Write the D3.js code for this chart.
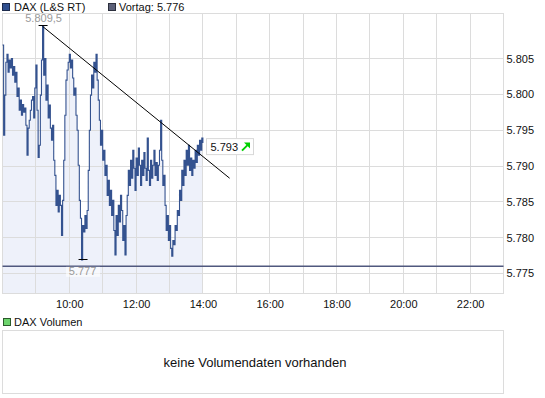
<!DOCTYPE html>
<html><head><meta charset="utf-8">
<script src="https://cdn.jsdelivr.net/npm/d3@7"></script>
<style>
body{margin:0;background:#fff;}
svg{display:block;font-family:Arial,"Liberation Sans",sans-serif;}
</style>
</head><body>
<svg id="c" width="545" height="398"></svg>
<script>
// ---------- data ----------
const seriesName = "DAX (L&S RT)";
const prevCloseLabel = "Vortag";
const prevClose = 5776;
const startTime = "08:00";
const intervalMin = 2;
const prices = [
5806.9,5794.3,5799.9,5804.5,5805.6,5803.1,5804.8,5803.7,5805.0,5802.7,
5803.9,5801.7,5803.1,5799.7,5800.9,5797.8,5799.2,5797.1,5798.6,5797.5,
5798.1,5795.7,5791.5,5795.3,5796.4,5797.8,5799.2,5799.7,5796.7,5800.9,
5804.1,5797.8,5791.2,5792.9,5799.9,5804.8,5809.5,5802.7,5805.0,5799.2,
5801.3,5796.7,5798.5,5795.3,5793.6,5795.7,5790.8,5788.7,5784.5,5786.6,
5783.6,5785.9,5784.5,5780.3,5785.2,5790.8,5797.1,5802.0,5803.4,5804.5,
5805.6,5803.7,5804.8,5802.3,5799.9,5800.9,5797.1,5795.0,5790.1,5785.2,
5782.7,5776.9,5781.7,5780.8,5783.1,5781.3,5783.8,5789.4,5795.0,5799.9,
5802.7,5800.9,5804.5,5803.1,5805.6,5802.0,5799.2,5796.4,5792.9,5795.0,
5790.8,5792.2,5788.7,5790.1,5785.9,5788.0,5784.5,5786.6,5783.1,5785.2,
5781.0,5777.6,5783.1,5780.3,5784.5,5782.2,5785.9,5783.8,5779.6,5781.7,
5777.6,5783.1,5785.9,5789.4,5787.3,5790.8,5788.3,5792.2,5789.7,5786.6,
5791.1,5788.7,5792.5,5790.1,5787.3,5790.8,5788.7,5791.9,5789.7,5788.0,
5793.9,5789.4,5787.3,5790.8,5788.3,5790.1,5792.2,5788.7,5790.5,5788.0,
5790.1,5792.2,5796.4,5790.8,5787.3,5788.7,5784.5,5781.0,5783.1,5779.6,
5781.7,5778.5,5777.4,5779.6,5779.0,5781.7,5781.0,5783.8,5783.1,5786.6,
5785.2,5789.4,5787.3,5790.8,5788.7,5792.2,5790.1,5792.9,5789.4,5791.1,
5788.7,5790.8,5789.7,5792.2,5790.5,5792.9,5791.5,5793.6,5792.2,5793.9,
5793.2
];
const trendTimes = ["09:12", "14:48"];
const trendValues = [5809.5, 5788.3];
const yTicks = [5775, 5780, 5785, 5790, 5795, 5800, 5805];
const xTickLabels = ["10:00", "12:00", "14:00", "16:00", "18:00", "20:00", "22:00"];
const gridHours = ["09:00","10:00","11:00","12:00","13:00","14:00","15:00","16:00","17:00","18:00","19:00","20:00","21:00","22:00"];
const xDomain = ["08:00", "23:00"];
const yDomain = [5772.2, 5811.3];
const volumeLegend = "DAX Volumen";
const volumeMessage = "keine Volumendaten vorhanden";

// ---------- helpers ----------
const toH = s => { const [h, m] = s.split(":").map(Number); return h + m / 60; };
const de = d3.formatLocale({decimal: ",", thousands: ".", grouping: [3], currency: ["", " €"]});
const f0 = de.format(",.0f"), f1 = de.format(",.1f");

const data = prices.map((v, i) => ({t: toH(startTime) + i * intervalMin / 60, v}));

const L = 2.5, R = 503.5, T = 13.5, B = 293.5;
const x = d3.scaleLinear().domain(xDomain.map(toH)).range([L, R]);
const y = d3.scaleLinear().domain(yDomain).range([B, T]);
const px = v => Math.round(v - 0.5) + 0.5;

const svg = d3.select("#c");

// legend top
const lg = svg.append("g");
lg.append("rect").attr("x", 2.5).attr("y", 3.5).attr("width", 7).attr("height", 7)
  .attr("fill", "#2f4f8f").attr("stroke", "#1d2b4d");
lg.append("text").attr("x", 14).attr("y", 11).attr("font-size", 11).attr("fill", "#111").text(seriesName);
lg.append("rect").attr("x", 108.5).attr("y", 3.5).attr("width", 7).attr("height", 7)
  .attr("fill", "#5c6078").attr("stroke", "#2c2f3d");
lg.append("text").attr("x", 119).attr("y", 11).attr("font-size", 11).attr("fill", "#111")
  .text(prevCloseLabel + ": " + f0(prevClose));

// fill
const area = d3.area().curve(d3.curveStepAfter).x(d => x(d.t)).y0(B).y1(d => y(d.v));
svg.append("path").datum(data).attr("d", area).attr("fill", "#eef1fa");

// grid
const grid = svg.append("g").attr("stroke", "#dcdcdc").attr("stroke-width", 1);
gridHours.forEach(h => grid.append("line").attr("x1", px(x(toH(h)))).attr("x2", px(x(toH(h))))
  .attr("y1", T).attr("y2", B));
yTicks.forEach(v => grid.append("line").attr("x1", L).attr("x2", R)
  .attr("y1", px(y(v))).attr("y2", px(y(v))));
grid.append("rect").attr("x", L).attr("y", T).attr("width", R - L).attr("height", B - T).attr("fill", "none");

// axes
const yAxis = d3.axisRight(y).tickValues(yTicks).tickFormat(f0).tickSize(0).tickPadding(3);
const ya = svg.append("g").attr("transform", `translate(${R},0)`).call(yAxis);
ya.select(".domain").remove();
ya.selectAll("text").attr("font-size", 11).attr("fill", "#111").attr("font-family", "Arial, 'Liberation Sans', sans-serif");

const xAxis = d3.axisBottom(x).tickValues(xTickLabels.map(toH))
  .tickFormat((d, i) => xTickLabels[i]).tickSize(0).tickPadding(7);
const xa = svg.append("g").attr("transform", `translate(0,${B})`).call(xAxis);
xa.select(".domain").remove();
xa.selectAll("text").attr("font-size", 11).attr("fill", "#111").attr("font-family", "Arial, 'Liberation Sans', sans-serif");

// previous close line
svg.append("line").attr("x1", L).attr("x2", R).attr("y1", y(prevClose)).attr("y2", y(prevClose))
  .attr("stroke", "#50587e").attr("stroke-width", 1.4);

// price line
const line = d3.line().curve(d3.curveStepAfter).x(d => x(d.t)).y(d => y(d.v));
svg.append("path").datum(data).attr("d", line).attr("fill", "none")
  .attr("stroke", "#34528f").attr("stroke-width", 1.1).attr("stroke-linejoin", "miter");

// trend line
svg.append("line")
  .attr("x1", x(toH(trendTimes[0]))).attr("y1", y(trendValues[0]))
  .attr("x2", x(toH(trendTimes[1]))).attr("y2", y(trendValues[1]))
  .attr("stroke", "#000").attr("stroke-width", 1);

// max / min markers
const maxD = data.reduce((a, b) => b.v > a.v ? b : a);
const minD = data.reduce((a, b) => b.v < a.v ? b : a);
svg.append("line").attr("x1", x(maxD.t) - 4).attr("x2", x(maxD.t) + 5)
  .attr("y1", px(y(maxD.v)) - 1).attr("y2", px(y(maxD.v)) - 1).attr("stroke", "#000");
svg.append("text").attr("x", x(maxD.t) + 1).attr("y", 21.5).attr("text-anchor", "middle")
  .attr("font-size", 11).attr("fill", "#9a9a9a").text(f1(maxD.v));

svg.append("line").attr("x1", x(minD.t) - 3).attr("x2", x(minD.t) + 6)
  .attr("y1", px(y(minD.v))).attr("y2", px(y(minD.v))).attr("stroke", "#000");
svg.append("rect").attr("x", x(minD.t) - 15.5).attr("y", y(prevClose) + 0.5).attr("width", 34).attr("height", 10)
  .attr("fill", "#fff").attr("fill-opacity", 0.6);
svg.append("text").attr("x", x(minD.t) + 1).attr("y", 275).attr("text-anchor", "middle")
  .attr("font-size", 11).attr("fill", "#9a9a9a").text(f0(minD.v));

// last price label
const last = data[data.length - 1];
const ly = y(last.v);
svg.append("rect").attr("x", 206.5).attr("y", ly - 4.5).attr("width", 47).attr("height", 16)
  .attr("fill", "#fff").attr("stroke", "#d8d8d8");
svg.append("text").attr("x", 210.5).attr("y", ly + 7.5).attr("font-size", 11).attr("fill", "#111").text(f0(last.v));
const ag = svg.append("g").attr("transform", `translate(241,${ly - 0.5})`);
ag.append("line").attr("x1", 1).attr("y1", 8).attr("x2", 7).attr("y2", 2).attr("stroke", "#00d000").attr("stroke-width", 2);
ag.append("path").attr("d", "M3,0 L9,0 L9,6 Z").attr("fill", "#00d000");

// volume panel
svg.append("rect").attr("x", 3.5).attr("y", 318.5).attr("width", 7).attr("height", 7)
  .attr("fill", "#6cd46c").attr("stroke", "#2b5a2b");
svg.append("text").attr("x", 14).attr("y", 326).attr("font-size", 11).attr("fill", "#111").text(volumeLegend);
svg.append("rect").attr("x", L).attr("y", 330.5).attr("width", R - L).attr("height", 63)
  .attr("fill", "#fff").attr("stroke", "#dcdcdc");
svg.append("text").attr("x", (L + R) / 2 + 2).attr("y", 366.5).attr("text-anchor", "middle")
  .attr("font-size", 13).attr("fill", "#111").text(volumeMessage);
</script>
</body></html>
